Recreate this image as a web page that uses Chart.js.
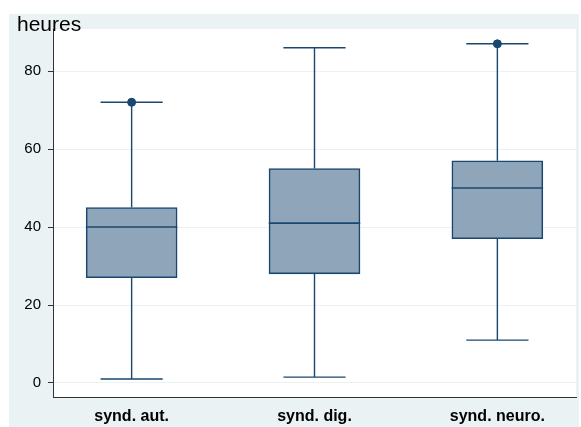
<!DOCTYPE html>
<html>
<head>
<meta charset="utf-8">
<script src="https://cdn.jsdelivr.net/npm/chart.js@4.4.0/dist/chart.umd.min.js"></script>
<style>
  html, body { margin: 0; padding: 0; background: #fff; }
  #wrap { width: 581px; height: 427px; }
</style>
</head>
<body>
<div id="wrap"><canvas id="box" width="581" height="427"></canvas></div>
<script>
// boxplot data (hours)
const categories = ['synd. aut.', 'synd. dig.', 'synd. neuro.'];
const lowerWhisker = [1, 1.5, 11];
const q1 = [27, 28, 37];
const median = [40, 41, 50];
const q3 = [45, 55, 57];
const upperWhisker = [72, 86, 87];
const outliers = [[72], [], [87]];
const yTicks = [0, 20, 40, 60, 80];

const NAVY = '#1a476f';
const FILL = '#8fa6ba';
const BG = '#eaf2f3';

const positions = categories.map((c, i) => i + 1);

// whiskers, caps, medians
const boxExtras = {
    id: 'boxExtras',
    afterDatasetsDraw(chart) {
        const { ctx, scales: { x, y } } = chart;
        ctx.save();
        ctx.strokeStyle = NAVY;
        positions.forEach((p, i) => {
            const cx = x.getPixelForValue(p);
            const capL = x.getPixelForValue(p - 0.17);
            const capR = x.getPixelForValue(p + 0.17);
            const boxL = x.getPixelForValue(p - 0.25);
            const boxR = x.getPixelForValue(p + 0.25);
            ctx.lineWidth = 1.4;
            ctx.beginPath();
            ctx.moveTo(cx, y.getPixelForValue(q3[i]));
            ctx.lineTo(cx, y.getPixelForValue(upperWhisker[i]));
            ctx.moveTo(cx, y.getPixelForValue(q1[i]));
            ctx.lineTo(cx, y.getPixelForValue(lowerWhisker[i]));
            ctx.moveTo(capL, y.getPixelForValue(upperWhisker[i]));
            ctx.lineTo(capR, y.getPixelForValue(upperWhisker[i]));
            ctx.moveTo(capL, y.getPixelForValue(lowerWhisker[i]));
            ctx.lineTo(capR, y.getPixelForValue(lowerWhisker[i]));
            ctx.stroke();
            ctx.lineWidth = 1.6;
            ctx.beginPath();
            ctx.moveTo(boxL, y.getPixelForValue(median[i]));
            ctx.lineTo(boxR, y.getPixelForValue(median[i]));
            ctx.stroke();
        });
        ctx.restore();
    }
};

// stata-like background + "heures" label
const frame = {
    id: 'frame',
    beforeDraw(chart) {
        const { ctx, chartArea: a } = chart;
        ctx.save();
        ctx.fillStyle = '#fff';
        ctx.fillRect(0, 0, chart.width, chart.height);
        ctx.fillStyle = BG;
        ctx.fillRect(9, 14, 570, 413);
        ctx.fillStyle = '#fff';
        ctx.fillRect(a.left, a.top, a.right - a.left, a.bottom - a.top);
        ctx.restore();
    },
    afterDraw(chart) {
        const { ctx } = chart;
        ctx.save();
        ctx.fillStyle = '#000';
        ctx.font = '21px "Liberation Sans", Arial, sans-serif';
        ctx.textBaseline = 'alphabetic';
        ctx.fillText('heures', 17, 31);
        ctx.restore();
    }
};

new Chart(document.getElementById('box'), {
    type: 'bar',
    data: {
        datasets: [{
            data: positions.map((p, i) => ({ x: p, y: [q1[i], q3[i]] })),
            backgroundColor: FILL,
            borderColor: NAVY,
            borderWidth: 1.6,
            borderSkipped: false,
            barThickness: 91,
            order: 2
        }, {
            type: 'scatter',
            data: outliers.flatMap((arr, i) => arr.map(v => ({ x: positions[i], y: v }))),
            backgroundColor: NAVY,
            borderColor: NAVY,
            pointRadius: 4,
            showLine: false,
            order: 1
        }]
    },
    options: {
        responsive: false,
        animation: false,
        layout: { padding: { left: 0, top: 29, right: 5, bottom: 0 } },
        plugins: { legend: { display: false }, tooltip: { enabled: false } },
        scales: {
            x: {
                type: 'linear',
                min: 0.57,
                max: 3.43,
                offset: false,
                afterBuildTicks: s => { s.ticks = positions.map(v => ({ value: v })); },
                afterFit: s => { s.height = 30; },
                grid: { display: false, drawTicks: false },
                border: { display: true, color: '#333', width: 1 },
                ticks: {
                    callback: v => categories[v - 1],
                    color: '#000',
                    padding: 10,
                    maxRotation: 0,
                    autoSkip: false,
                    font: { family: '"Liberation Sans", Arial, sans-serif', size: 16, weight: 'bold' }
                }
            },
            y: {
                min: -3.6,
                max: 90.8,
                afterBuildTicks: s => { s.ticks = yTicks.map(v => ({ value: v })); },
                afterFit: s => { s.width = 53; },
                grid: { color: BG, lineWidth: 1, tickColor: '#333', tickLength: 5 },
                border: { display: true, color: '#333', width: 1 },
                ticks: {
                    color: '#000',
                    padding: 7,
                    font: { family: '"Liberation Sans", Arial, sans-serif', size: 15 }
                }
            }
        }
    },
    plugins: [frame, boxExtras]
});
</script>
</body>
</html>
